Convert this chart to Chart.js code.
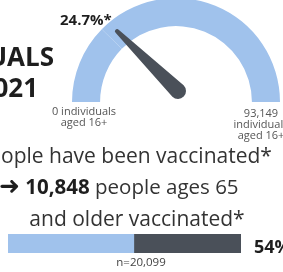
<!DOCTYPE html>
<html>
<head>
<meta charset="utf-8">
<script src="https://cdn.jsdelivr.net/npm/chart.js@4"></script>
<style>
  html, body { margin:0; padding:0; background:#fff; }
  body { width:283px; height:272px; position:relative; overflow:hidden; font-family:"Open Sans", sans-serif; color:#333; }
  .t { position:absolute; white-space:nowrap; line-height:1; }
  .b { font-weight:700; color:#1e1e1e; }
  #gauge { position:absolute; left:66px; top:-10px; }
  #barWrap { position:absolute; left:8px; top:234px; width:233px; height:19px; }
</style>
</head>
<body>
<canvas id="gauge" width="220" height="120" style="width:220px;height:120px"></canvas>
<div id="barWrap"><canvas id="bar" width="233" height="19" style="width:233px;height:19px"></canvas></div>

<div class="t b" style="left:60px;top:12px;font-size:15px;">24.7%*</div>
<div class="t b" style="right:229px;top:43px;font-size:26px;">UALS</div>
<div class="t b" style="right:245px;top:74px;font-size:26px;">2021</div>

<div class="t" style="left:34px;width:100px;text-align:center;top:105px;font-size:11px;line-height:11px;color:#555;">0 individuals<br>aged 16+</div>
<div class="t" style="left:211px;width:100px;text-align:center;top:107px;font-size:11px;line-height:11px;color:#555;">93,149<br>individuals<br>aged 16+</div>

<div class="t" style="left:1px;top:145px;font-size:21px;">ople have been vaccinated*</div>
<div class="t" style="left:-1px;top:173px;font-size:20.5px;"><span class="b" style="font-family:'DejaVu Sans';font-size:25px;">&#x279C;</span> <span class="b">10,848</span> people ages 65</div>
<div class="t" style="left:0px;width:274px;text-align:center;top:208px;font-size:21px;">and older vaccinated*</div>

<div class="t b" style="left:254px;top:237px;font-size:18px;">54%</div>
<div class="t" style="left:91px;width:100px;text-align:center;top:256px;font-size:11.5px;color:#444;">n=20,099</div>

<script>
// ---- data ----
const gaugeLabels = ['Vaccinated (16+)', 'Not yet vaccinated (16+)'];
const gaugeValues = [23008, 70141];      // total 93,149 individuals aged 16+
const gaugeTickLabels = ['0 individuals aged 16+', '93,149 individuals aged 16+'];

const barLabels = ['Ages 65 and older'];
const barVaccinated = [54];
const barNotVaccinated = [46];

const LIGHT = '#a0c2ec';
const DARK = '#4a5059';

Chart.defaults.animation = false;
Chart.defaults.font.family = '"Open Sans", sans-serif';

const needlePlugin = {
  id: 'needle',
  afterDatasetsDraw(chart) {
    const meta = chart.getDatasetMeta(0);
    const el = meta.data[0];
    if (!el) return;
    const vals = chart.data.datasets[0].data;
    const total = vals.reduce((a, b) => a + b, 0);
    const frac = vals[0] / total;
    const ang = Math.PI + frac * Math.PI;
    const px = el.x + 2, py = el.y - 11;
    const L = el.outerRadius * 0.82;
    const rb = 8, rt = 2.2;
    const tx = px + Math.cos(ang) * L, ty = py + Math.sin(ang) * L;
    const nx = -Math.sin(ang), ny = Math.cos(ang);
    const ctx = chart.ctx;
    ctx.save();
    ctx.fillStyle = DARK;
    ctx.beginPath();
    ctx.moveTo(px + nx * rb, py + ny * rb);
    ctx.lineTo(tx + nx * rt, ty + ny * rt);
    ctx.arc(tx, ty, rt, ang + Math.PI / 2, ang - Math.PI / 2, true);
    ctx.lineTo(px - nx * rb, py - ny * rb);
    ctx.arc(px, py, rb, ang - Math.PI / 2, ang + Math.PI / 2, true);
    ctx.closePath();
    ctx.fill();
    ctx.restore();
  }
};

new Chart(document.getElementById('gauge'), {
  type: 'doughnut',
  data: {
    labels: gaugeLabels,
    datasets: [{ data: gaugeValues, backgroundColor: [LIGHT, LIGHT], borderWidth: 0 }]
  },
  options: {
    responsive: false,
    rotation: -90,
    circumference: 180,
    cutout: '73%',
    radius: 104,
    layout: { padding: 0 },
    plugins: { legend: { display: false }, tooltip: { enabled: false } }
  },
  plugins: [needlePlugin]
});

new Chart(document.getElementById('bar'), {
  type: 'bar',
  data: {
    labels: barLabels,
    datasets: [
      { label: 'Vaccinated', data: barVaccinated, backgroundColor: LIGHT, borderWidth: 0, barPercentage: 1, categoryPercentage: 1 },
      { label: 'Not vaccinated', data: barNotVaccinated, backgroundColor: DARK, borderWidth: 0, barPercentage: 1, categoryPercentage: 1 }
    ]
  },
  options: {
    responsive: false,
    indexAxis: 'y',
    layout: { padding: 0 },
    scales: {
      x: { stacked: true, min: 0, max: 100, display: false },
      y: { stacked: true, display: false }
    },
    plugins: { legend: { display: false }, tooltip: { enabled: false } }
  }
});
</script>
</body>
</html>
